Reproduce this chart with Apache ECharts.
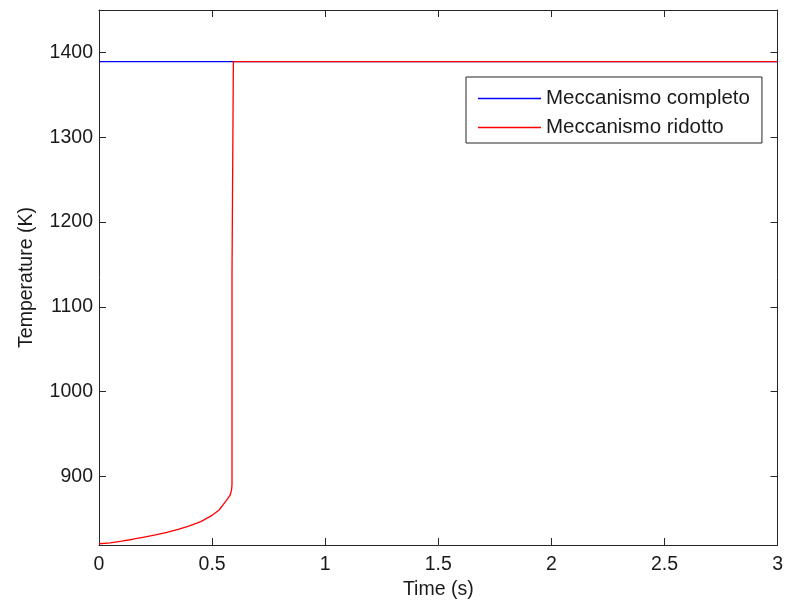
<!DOCTYPE html>
<html>
<head>
<meta charset="utf-8">
<script src="https://cdn.jsdelivr.net/npm/echarts@6/dist/echarts.min.js"></script>
<style>html,body{margin:0;padding:0;background:#fff}#c{width:786px;height:606px}</style>
</head>
<body>
<div id="c"></div>
<script>
const seriesNames = ['Meccanismo completo', 'Meccanismo ridotto'];
const timeComplete = [0, 3];
const tempComplete = [1389, 1389];
const timeReduced = [0, 0.05, 0.1, 0.15, 0.2, 0.25, 0.3, 0.35, 0.4, 0.45, 0.5, 0.53, 0.55, 0.57, 0.58, 0.586, 0.588, 0.588, 0.594, 0.594, 3];
const tempReduced = [820.5, 821.5, 823.5, 825.8, 828.4, 831, 834, 837.5, 841.5, 846.5, 854, 860, 867, 874, 878, 884, 890, 1139, 1139, 1389, 1389];
const xRange = [0, 3];
const xStep = 0.5;
const yRange = [819, 1450];

const FONT = '"Liberation Sans", Arial, sans-serif';
const FS = 19.5;
const TXT = '#1a1a1a';
const AX = '#262626';
const chart = echarts.init(document.getElementById('c'));
const zip = (a, b) => a.map((v, i) => [v, b[i]]);
const tickStyle = {show: true, inside: true, length: 7, lineStyle: {color: AX, width: 1}};
const lineAx = {show: true, onZero: false, lineStyle: {color: AX, width: 1}};
chart.setOption({
  animation: false,
  backgroundColor: '#fff',
  grid: {left: 99, top: 10, right: 7, bottom: 61, containLabel: false},
  xAxis: [{
    type: 'value', min: xRange[0], max: xRange[1], interval: xStep,
    name: 'Time (s)', nameLocation: 'middle', nameGap: 35,
    nameTextStyle: {fontFamily: FONT, fontSize: FS, color: TXT},
    axisLine: lineAx, axisTick: tickStyle,
    axisLabel: {fontFamily: FONT, fontSize: FS, color: TXT, margin: 10, formatter: v => String(v)},
    splitLine: {show: false}
  }, {
    type: 'value', min: xRange[0], max: xRange[1], interval: xStep, position: 'top',
    axisLine: lineAx, axisTick: tickStyle, axisLabel: {show: false}, splitLine: {show: false}
  }],
  yAxis: [{
    type: 'value', min: yRange[0], max: yRange[1], splitNumber: 5, position: 'left',
    name: 'Temperature (K)', nameLocation: 'middle', nameGap: 62,
    nameTextStyle: {fontFamily: FONT, fontSize: FS, color: TXT},
    axisLine: lineAx, axisTick: tickStyle,
    axisLabel: {fontFamily: FONT, fontSize: FS, color: TXT, margin: 6,
      showMinLabel: false, showMaxLabel: false, formatter: v => String(v)},
    splitLine: {show: false}
  }, {
    type: 'value', min: yRange[0], max: yRange[1], splitNumber: 5, position: 'right',
    axisLine: lineAx, axisTick: tickStyle, axisLabel: {show: false}, splitLine: {show: false}
  }],
  legend: {
    left: 466, top: 77, orient: 'vertical',
    backgroundColor: '#fff', borderColor: AX, borderWidth: 1,
    padding: [11, 12, 5, 12], itemGap: 8, itemWidth: 63, itemHeight: 1.3, icon: 'rect',
    textStyle: {fontFamily: FONT, fontSize: 20.5, color: TXT, lineHeight: 21},
    data: seriesNames
  },
  series: [{
    name: seriesNames[0], type: 'line', symbol: 'none', xAxisIndex: 0, yAxisIndex: 0,
    lineStyle: {color: '#0000ff', width: 1.3}, itemStyle: {color: '#0000ff'},
    data: zip(timeComplete, tempComplete), z: 2
  }, {
    name: seriesNames[1], type: 'line', symbol: 'none', xAxisIndex: 0, yAxisIndex: 0,
    lineStyle: {color: '#ff0000', width: 1.3}, itemStyle: {color: '#ff0000'},
    data: zip(timeReduced, tempReduced), z: 3
  }]
});
</script>
</body>
</html>
